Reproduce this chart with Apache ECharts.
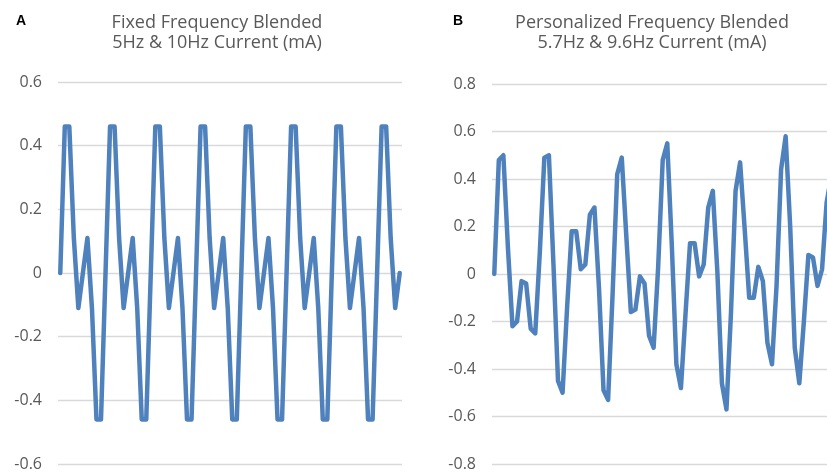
<!DOCTYPE html>
<html>
<head>
<meta charset="utf-8">
<script src="https://cdn.jsdelivr.net/npm/echarts@6/dist/echarts.min.js"></script>
<style>
  html, body { margin: 0; padding: 0; background: #fff; }
  #chart { width: 827px; height: 475px; }
</style>
</head>
<body>
<div id="chart"></div>
<script>
// panel A: 5Hz + 10Hz, one value per sample
const fixedCurrent = [
  0, 0.46, 0.46, 0.11, -0.11, 0, 0.11, -0.11, -0.46, -0.46,
  0, 0.46, 0.46, 0.11, -0.11, 0, 0.11, -0.11, -0.46, -0.46,
  0, 0.46, 0.46, 0.11, -0.11, 0, 0.11, -0.11, -0.46, -0.46,
  0, 0.46, 0.46, 0.11, -0.11, 0, 0.11, -0.11, -0.46, -0.46,
  0, 0.46, 0.46, 0.11, -0.11, 0, 0.11, -0.11, -0.46, -0.46,
  0, 0.46, 0.46, 0.11, -0.11, 0, 0.11, -0.11, -0.46, -0.46,
  0, 0.46, 0.46, 0.11, -0.11, 0, 0.11, -0.11, -0.46, -0.46,
  0, 0.46, 0.46, 0.11, -0.11, 0
];
// panel B: 5.7Hz + 9.6Hz (runs off the right edge)
const personalCurrent = [
  0, 0.48, 0.50, 0.11, -0.22, -0.20, -0.03, -0.04, -0.23, -0.25,
  0.09, 0.49, 0.50, 0.04, -0.45, -0.50, -0.14, 0.18, 0.18, 0.02,
  0.04, 0.25, 0.28, -0.06, -0.49, -0.53, -0.08, 0.42, 0.49, 0.16,
  -0.16, -0.15, -0.01, -0.04, -0.26, -0.31, 0.03, 0.48, 0.55, 0.12,
  -0.38, -0.48, -0.17, 0.13, 0.13, -0.01, 0.04, 0.28, 0.35, 0.01,
  -0.46, -0.57, -0.16, 0.35, 0.47, 0.19, -0.10, -0.10, 0.03, -0.03,
  -0.29, -0.38, -0.05, 0.44, 0.58, 0.20, -0.31, -0.46, -0.20, 0.08,
  0.07, -0.05, 0.02, 0.30, 0.41, 0.08
];
const ticksA = [-0.6, -0.4, -0.2, 0, 0.2, 0.4, 0.6];
const ticksB = [-0.8, -0.6, -0.4, -0.2, 0, 0.2, 0.4, 0.6, 0.8];

const chart = echarts.init(document.getElementById('chart'));
const gray = '#595959';
const font = "'Open Sans', sans-serif";

function yAxis(idx, ticks) {
  return {
    type: 'value',
    gridIndex: idx,
    min: ticks[0],
    max: ticks[ticks.length - 1],
    interval: 0.2,
    axisLine: { show: false },
    axisTick: { show: false },
    axisLabel: { color: gray, fontSize: 16, fontFamily: font, margin: 16 },
    splitLine: { lineStyle: { color: '#d9d9d9', width: 1.3 } }
  };
}
function xAxis(idx) {
  return {
    type: 'category',
    gridIndex: idx,
    boundaryGap: true,
    axisLine: { show: false },
    axisTick: { show: false },
    axisLabel: { show: false },
    splitLine: { show: false }
  };
}
function line(idx, data) {
  return {
    type: 'line',
    xAxisIndex: idx,
    yAxisIndex: idx,
    data: data,
    symbol: 'none',
    animation: false,
    lineStyle: { color: '#4f81bd', width: 4.5, join: 'round', cap: 'round' }
  };
}

const titleStyle = { color: gray, fontSize: 18, fontWeight: 'normal', fontFamily: font, lineHeight: 20 };
const letterStyle = { color: '#000', fontSize: 14, fontWeight: 'bold', fontFamily: "'Liberation Sans', Arial, sans-serif" };

chart.setOption({
  animation: false,
  title: [
    { text: 'Fixed Frequency Blended\n5Hz & 10Hz Current (mA)', left: 212, top: 8, textAlign: 'center', textStyle: titleStyle },
    { text: 'Personalized Frequency Blended\n5.7Hz & 9.6Hz Current (mA)', left: 647, top: 8, textAlign: 'center', textStyle: titleStyle },
    { text: 'A', left: 11, top: 9, textStyle: letterStyle },
    { text: 'B', left: 448, top: 9, textStyle: letterStyle }
  ],
  grid: [
    { left: 58, width: 344, top: 82, bottom: 11, outerBoundsMode: 'none', containLabel: false },
    { left: 492, width: 346, top: 84, bottom: 11, outerBoundsMode: 'none', containLabel: false }
  ],
  xAxis: [xAxis(0), xAxis(1)],
  yAxis: [yAxis(0, ticksA), yAxis(1, ticksB)],
  series: [line(0, fixedCurrent), line(1, personalCurrent)]
});
</script>
</body>
</html>
